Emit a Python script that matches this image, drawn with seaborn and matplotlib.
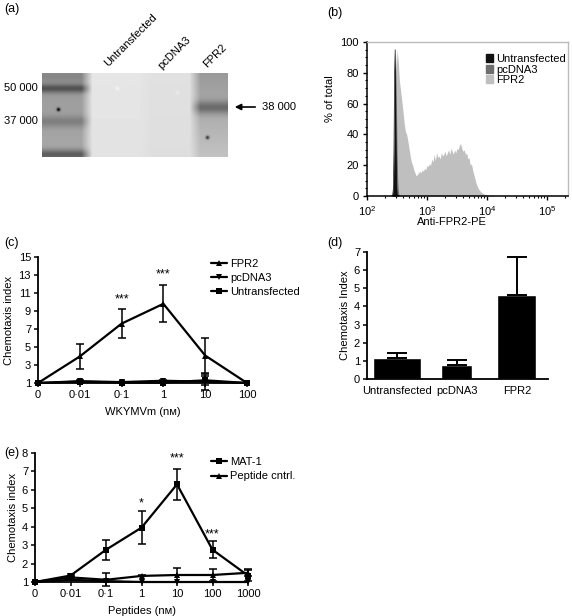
import numpy as np
import pandas as pd
import matplotlib
matplotlib.use("Agg")
import matplotlib.pyplot as plt
import seaborn as sns
from matplotlib.lines import Line2D
from matplotlib.patches import Patch
from matplotlib.ticker import MultipleLocator, LogLocator, NullFormatter

# ---------------- data ----------------
# (a) western blot
blot_lanes = ["Untransfected", "pcDNA3", "FPR2"]
ladder_labels = ["50 000", "37 000"]
band_label = "38 000"
lane_edges = [0, 45, 103, 153, 186]          # blot pixel columns
lane_top = [0.60, 0.90, 0.88, 0.60]          # brightness at top of lane
lane_bottom = [0.66, 0.89, 0.87, 0.76]       # brightness at bottom of lane
band_lane = [0, 0, 0, 0, 3]
band_row = [3, 15, 48, 81, 34]
band_depth = [0.08, 0.30, 0.14, 0.30, 0.25]
band_sigma = [4, 3, 4, 3.5, 4.5]
speck_x = [16, 165, 75, 135]
speck_y = [36, 64, 15, 19]
speck_depth = [0.6, 0.5, -0.06, -0.04]

# (b) flow cytometry histograms (% of total vs log10 fluorescence)
fpr2_start, fpr2_step = 2.40, 0.02
fpr2_hist = [0, 0, 2, 20, 70, 95, 88, 75, 68, 62, 55, 47, 42, 40, 36, 31, 26, 22,
             20, 17, 15, 13, 14, 15, 16, 15, 17, 16, 18, 17, 20, 19, 21, 20, 24, 22,
             27, 23, 28, 25, 26, 24, 28, 26, 27, 29, 26, 28, 30, 27, 31, 29, 27, 30,
             28, 31, 30, 33, 34, 31, 29, 30, 27, 28, 24, 25, 20, 21, 17, 14, 11, 8,
             6, 4.5, 3.5, 2.5, 2, 1.5, 1.2, 1, 0.8, 0.6, 0.5, 0.4, 0.3, 0.2, 0.1, 0]
ctrl_start, ctrl_step = 2.40, 0.01
untr_hist = [0, 0, 0, 1, 5, 30, 80, 95, 40, 8, 1, 0, 0, 0, 0, 0]
pcdna3_hist = [0, 0, 1, 3, 8, 18, 40, 70, 92, 60, 30, 12, 4, 1, 0, 0]
hist_labels = ["Untransfected", "pcDNA3", "FPR2"]

# (c) WKYMVm chemotaxis
c_doses = ["0", "0·01", "0·1", "1", "10", "100"]
c_fpr2 = [1.0, 3.95, 7.6, 9.8, 4.05, 1.0]
c_fpr2_err = [0, 1.35, 1.6, 2.05, 1.9, 0]
c_pcdna3 = [1.0, 1.2, 1.1, 1.25, 1.15, 1.0]
c_pcdna3_err = [0, 0.1, 0.05, 0.1, 0.9, 0]
c_untr = [1.0, 1.15, 1.05, 1.05, 1.3, 1.0]
c_untr_err = [0, 0.1, 0.05, 0.05, 0.5, 0]
c_star_pos = [2, 3]
c_star_y = [10.3, 13.1]
c_star_txt = ["***", "***"]

# (d) chemotaxis index bars
d_groups = ["Untransfected", "pcDNA3", "FPR2"]
d_mean = [1.15, 0.78, 4.65]
d_err = [0.3, 0.25, 2.05]

# (e) peptide chemotaxis
e_doses = ["0", "0·01", "0·1", "1", "10", "100", "1000"]
e_mat1 = [1.0, 1.35, 2.75, 3.95, 6.3, 2.75, 1.35]
e_mat1_err = [0, 0.08, 0.55, 0.88, 0.85, 0.45, 0.3]
e_ctrl = [1.0, 1.25, 1.12, 1.33, 1.38, 1.38, 1.5]
e_ctrl_err = [0, 0.05, 0.35, 0.03, 0.4, 0.32, 0.2]
e_base = [1.0, 1.12, 1.05, 1.0, 1.0, 1.0, 1.0]
e_star_pos = [3, 4, 5]
e_star_y = [5.25, 7.7, 3.6]
e_star_txt = ["*", "***", "***"]

# ---------------- style ----------------
sns.set_style("ticks")
plt.rcParams["font.family"] = ["Liberation Sans", "DejaVu Sans"]
plt.rcParams["font.size"] = 8
for k in ["axes.edgecolor", "xtick.color", "ytick.color", "text.color", "axes.labelcolor"]:
    plt.rcParams[k] = "black"

W, H = 572, 616
fig = plt.figure(figsize=(W / 100, H / 100), dpi=100)


def rect(l, t, r, b):
    return [l / W, 1 - b / H, (r - l) / W, (b - t) / H]


def ftext(x, y, s, **kw):
    fig.text(x / W, 1 - y / H, s, **kw)


def style_axes(ax):
    sns.despine(ax=ax)
    for s in ["left", "bottom"]:
        ax.spines[s].set_linewidth(1.3)
    ax.tick_params(length=3, width=1.1, labelsize=8, pad=2)


def add_err(ax, vals, errs, cap=3):
    idx = [i for i, e in enumerate(errs) if e > 0]
    ax.errorbar(idx, [vals[i] for i in idx], yerr=[errs[i] for i in idx], fmt="none",
                ecolor="black", elinewidth=1.1, capsize=cap, capthick=1.1, clip_on=False)


def long_frame(series):
    rows = [(i, v, name) for name, vals in series for i, v in enumerate(vals)]
    return pd.DataFrame(rows, columns=["pos", "value", "series"])


# ---------------- (a) blot ----------------
ax_a = fig.add_axes(rect(42, 73, 228, 157))
img = np.zeros((84, 186))
rows = np.arange(84)[:, None]
for i in range(4):
    a, b = lane_edges[i], lane_edges[i + 1]
    img[:, a:b] = np.linspace(lane_top[i], lane_bottom[i], 84)[:, None]
for ln, r, d, s in zip(band_lane, band_row, band_depth, band_sigma):
    a, b = lane_edges[ln], lane_edges[ln + 1]
    img[:, a:b] -= d * np.exp(-0.5 * ((rows - r) / s) ** 2)
kern = np.ones(11) / 11
img = np.array([np.convolve(np.pad(row, 5, mode="edge"), kern, mode="valid") for row in img])
kv = np.ones(3) / 3
img = np.array([np.convolve(np.pad(col, 1, mode="edge"), kv, mode="valid") for col in img.T]).T
yy, xx = np.mgrid[0:84, 0:186]
for x, y, d in zip(speck_x, speck_y, speck_depth):
    img -= d * np.exp(-((xx - x) ** 2 + (yy - y) ** 2) / (2 * 1.3 ** 2))
ax_a.imshow(np.clip(img, 0, 1), cmap="gray", vmin=0, vmax=1, extent=[0, 186, 84, 0],
            aspect="auto", interpolation="bilinear")
ax_a.axis("off")

ftext(4, 9, "(a)", fontsize=9, va="center")
ftext(38, 88, ladder_labels[0], ha="right", va="center")
ftext(38, 121, ladder_labels[1], ha="right", va="center")
for (x, y), lab in zip([(108, 67), (162, 70), (207, 68)], blot_lanes):
    ftext(x, y, lab, rotation=45, rotation_mode="anchor", ha="left", va="baseline")
ax_a.annotate("", xy=(232, H - 107), xytext=(258, H - 107), xycoords="figure pixels",
              textcoords="figure pixels",
              arrowprops=dict(arrowstyle="-|>", color="black", lw=1.2, mutation_scale=9))
ftext(262, 107, band_label, va="center")

# ---------------- (b) histogram ----------------
ax_b = fig.add_axes(rect(367, 42, 568, 196))
fpr2_x = 10 ** (fpr2_start + fpr2_step * np.arange(len(fpr2_hist)))
ctrl_x = 10 ** (ctrl_start + ctrl_step * np.arange(len(untr_hist)))
ax_b.fill_between(fpr2_x, fpr2_hist, color="#bfbfbf", lw=0)
ax_b.fill_between(ctrl_x, pcdna3_hist, color="#6e6e6e", lw=0)
ax_b.fill_between(ctrl_x, untr_hist, color="#111111", lw=0)
sns.lineplot(x=ctrl_x, y=untr_hist, color="#111111", lw=0.5, ax=ax_b)
ax_b.set_xscale("log")
ax_b.set_xlim(100, 10 ** 5.35)
ax_b.set_ylim(0, 100)
ax_b.set_yticks(range(0, 101, 20))
ax_b.yaxis.set_minor_locator(MultipleLocator(5))
ax_b.xaxis.set_major_locator(LogLocator(base=10, numticks=10))
ax_b.xaxis.set_minor_locator(LogLocator(base=10, subs=np.arange(2, 10), numticks=20))
ax_b.xaxis.set_minor_formatter(NullFormatter())
for s in ["top", "right"]:
    ax_b.spines[s].set_color("#bbbbbb")
    ax_b.spines[s].set_linewidth(1.0)
for s in ["left", "bottom"]:
    ax_b.spines[s].set_linewidth(1.1)
ax_b.tick_params(which="major", length=3, width=1, labelsize=8, pad=3)
ax_b.tick_params(which="minor", length=1.5, width=0.8)
ax_b.set_xlabel("Anti-FPR2-PE", fontsize=8)
ax_b.xaxis.set_label_coords((452 - 367) / 201, -(217 - 196) / 154)
ax_b.set_ylabel("% of total", fontsize=8)
ax_b.yaxis.set_label_coords(-0.16, (196 - 99) / 154)
ax_b.legend([Patch(color=c) for c in ["#111111", "#6e6e6e", "#bfbfbf"]], hist_labels,
            loc="upper left", bbox_to_anchor=(486 / W, 1 - 54 / H), bbox_transform=fig.transFigure,
            frameon=False, fontsize=8, handlelength=0.6, handleheight=0.7, handletextpad=0.3,
            labelspacing=0.05, borderpad=0, borderaxespad=0)
ftext(327, 13, "(b)", fontsize=9, va="center")

# ---------------- (c) WKYMVm ----------------
ax_c = fig.add_axes(rect(38, 257, 247, 383))
df_c = long_frame([("Untransfected", c_untr), ("pcDNA3", c_pcdna3), ("FPR2", c_fpr2)])
sns.lineplot(data=df_c, x="pos", y="value", hue="series", style="series",
             hue_order=["Untransfected", "pcDNA3", "FPR2"],
             markers={"FPR2": "^", "pcDNA3": "v", "Untransfected": "s"}, dashes=False,
             palette={"FPR2": "black", "pcDNA3": "black", "Untransfected": "black"},
             markersize=5, linewidth=1.6, markeredgewidth=0, sort=False, legend=False, ax=ax_c)
for vals, errs in [(c_untr, c_untr_err), (c_pcdna3, c_pcdna3_err), (c_fpr2, c_fpr2_err)]:
    add_err(ax_c, vals, errs)
for ln in ax_c.lines:
    ln.set_clip_on(False)
for p, y, t in zip(c_star_pos, c_star_y, c_star_txt):
    ax_c.text(p, y, t, ha="center", va="center", fontsize=9)
ax_c.set_xlim(0, 5)
ax_c.set_ylim(1, 15)
ax_c.set_yticks(range(1, 16, 2))
ax_c.set_xticks(range(len(c_doses)))
ax_c.set_xticklabels(c_doses)
style_axes(ax_c)
ax_c.set_xlabel("WKYMVm (nᴍ)", fontsize=8, labelpad=5)
ax_c.set_ylabel("Chemotaxis index", fontsize=8, labelpad=3)
c_handles = [Line2D([0], [0], color="black", lw=1.6, marker=m, markersize=4.5, markeredgewidth=0)
             for m in ["^", "v", "s"]]
ax_c.legend(c_handles, ["FPR2", "pcDNA3", "Untransfected"], loc="upper left",
            bbox_to_anchor=(211 / W, 1 - 259 / H), bbox_transform=fig.transFigure,
            frameon=False, fontsize=8, handlelength=1.4, handletextpad=0.3,
            labelspacing=0.35, borderpad=0, borderaxespad=0)
ftext(4, 243, "(c)", fontsize=9, va="center")

# ---------------- (d) bars ----------------
ax_d = fig.add_axes(rect(367, 252, 548, 379))
sns.barplot(x=d_groups, y=d_mean, color="black", saturation=1, width=0.7, ax=ax_d)
for patch, w in zip(ax_d.patches, [0.8, 0.52, 0.65]):
    cx = patch.get_x() + patch.get_width() / 2
    patch.set_width(w)
    patch.set_x(cx - w / 2)
ax_d.errorbar(range(len(d_mean)), d_mean, yerr=[[0] * len(d_err), d_err], fmt="none",
              ecolor="black", elinewidth=1.4, capsize=7, capthick=1.4)
ax_d.set_xlim(-0.5, 2.52)
ax_d.set_ylim(0, 7)
ax_d.set_yticks(range(0, 8))
style_axes(ax_d)
ax_d.tick_params(axis="x", length=0, pad=5)
ax_d.set_ylabel("Chemotaxis Index", fontsize=8, labelpad=3)
ftext(327, 243, "(d)", fontsize=9, va="center")

# ---------------- (e) peptides ----------------
ax_e = fig.add_axes(rect(35, 453, 248, 582))
df_e = long_frame([("base", e_base), ("Peptide cntrl.", e_ctrl), ("MAT-1", e_mat1)])
sns.lineplot(data=df_e, x="pos", y="value", hue="series", style="series",
             hue_order=["base", "Peptide cntrl.", "MAT-1"],
             markers={"MAT-1": "s", "Peptide cntrl.": "^", "base": "v"}, dashes=False,
             palette={"MAT-1": "black", "Peptide cntrl.": "black", "base": "black"},
             markersize=5, linewidth=1.6, markeredgewidth=0, sort=False, legend=False, ax=ax_e)
for vals, errs in [(e_ctrl, e_ctrl_err), (e_mat1, e_mat1_err)]:
    add_err(ax_e, vals, errs)
for ln in ax_e.lines:
    ln.set_clip_on(False)
for p, y, t in zip(e_star_pos, e_star_y, e_star_txt):
    ax_e.text(p, y, t, ha="center", va="center", fontsize=9)
ax_e.set_xlim(0, 6)
ax_e.set_ylim(1, 8)
ax_e.set_yticks(range(1, 9))
ax_e.set_xticks(range(len(e_doses)))
ax_e.set_xticklabels(e_doses)
style_axes(ax_e)
ax_e.set_xlabel("Peptides (nᴍ)", fontsize=8, labelpad=5)
ax_e.set_ylabel("Chemotaxis index", fontsize=8, labelpad=3)
e_handles = [Line2D([0], [0], color="black", lw=1.6, marker=m, markersize=4.5, markeredgewidth=0)
             for m in ["s", "^"]]
ax_e.legend(e_handles, ["MAT-1", "Peptide cntrl."], loc="upper left",
            bbox_to_anchor=(211 / W, 1 - 457 / H), bbox_transform=fig.transFigure,
            frameon=False, fontsize=8, handlelength=1.4, handletextpad=0.3,
            labelspacing=0.4, borderpad=0, borderaxespad=0)
ftext(4, 453, "(e)", fontsize=9, va="center")

fig.savefig("out.png", dpi=100)
